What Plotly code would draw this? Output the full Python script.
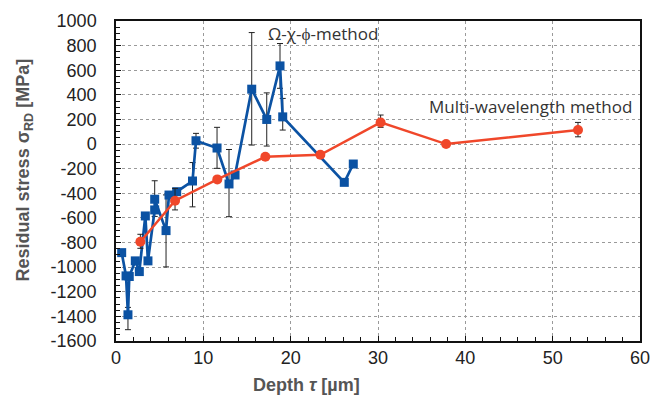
import plotly.graph_objects as go

# Ω-χ-ϕ method (blue)
blue_depth = [0.65, 1.15, 1.37, 1.52, 2.21, 2.67, 3.36, 3.66, 4.43, 4.43, 5.73, 6.07, 6.95,
              8.76, 9.16, 11.57, 12.94, 13.63, 15.54, 17.26, 18.78, 19.09, 26.14, 27.17]
blue_stress = [-882, -1071, -1387, -1076, -949, -1036, -584, -949, -535, -448, -703, -414, -387,
               -300, 27, -32, -324, -251, 446, 200, 635, 221, -311, -162]
blue_err_plus = [None, None, 60, None, None, None, None, None, None, 150, 290, None, None,
                 150, 60, 168, 280, None, 460, 216, 182, 150, None, None]
blue_err_minus = [None, None, 121, None, None, None, None, None, None, 140, 295, None, None,
                  210, 60, 165, 266, None, 454, 216, 182, 107, None, None]

# Multi-wavelength method (red)
red_depth = [2.79, 6.76, 11.6, 17.1, 23.4, 30.3, 37.8, 52.9]
red_stress = [-794, -460, -287, -103, -87, 176, 0, 114]
red_err_plus = [61, 100, None, None, None, 60, None, 62]
red_err_minus = [53, 75, None, None, None, 40, None, 55]

x_ticks = [0, 10, 20, 30, 40, 50, 60]
y_ticks = list(range(-1600, 1001, 200))

fig = go.Figure()

fig.add_trace(go.Scatter(
    x=blue_depth, y=blue_stress, mode="lines+markers",
    line=dict(color="#0b52a3", width=2.7),
    marker=dict(symbol="square", size=9, color="#0b52a3"),
    error_y=dict(type="data", symmetric=False, array=blue_err_plus, arrayminus=blue_err_minus,
                 color="#222222", thickness=1, width=3),
    showlegend=False,
))

fig.add_trace(go.Scatter(
    x=red_depth, y=red_stress, mode="lines+markers",
    line=dict(color="#f0472a", width=2.5),
    marker=dict(symbol="circle", size=10, color="#f0472a"),
    error_y=dict(type="data", symmetric=False, array=red_err_plus, arrayminus=red_err_minus,
                 color="#222222", thickness=1, width=3),
    showlegend=False,
))

fig.add_annotation(x=23.7, y=902, text="Ω-χ-ϕ-method", showarrow=False,
                   font=dict(family="Open Sans", size=17, color="#333333"))
fig.add_annotation(x=47.5, y=309, text="Multi-wavelength method", showarrow=False,
                   font=dict(family="Open Sans", size=17, color="#333333"))

# axis titles
fig.add_annotation(xref="paper", yref="paper", x=-0.175, y=0.534, textangle=-90,
                   xanchor="center", yanchor="middle",
                   text="<b>Residual stress σ<sub>RD</sub> [MPa]</b>", showarrow=False,
                   font=dict(family="Liberation Sans, Arial", size=18, color="#555555"))
fig.add_annotation(xref="paper", yref="paper", x=0.3645, y=-0.1375,
                   xanchor="center", yanchor="middle",
                   text="<b>Depth <i>τ</i> [µm]</b>", showarrow=False,
                   font=dict(family="Liberation Sans, Arial", size=18, color="#555555"))

fig.update_xaxes(
    range=[0, 60], tickvals=x_ticks, ticktext=[str(v) for v in x_ticks],
    showgrid=True, gridcolor="#9a9a9a", griddash="dot", gridwidth=1,
    showline=True, linecolor="#111111", linewidth=1.5, mirror=True,
    ticks="inside", ticklen=5, tickcolor="#111111",
    minor=dict(dtick=2, ticks="inside", ticklen=4, tickcolor="#111111", showgrid=False),
    tickfont=dict(family="Liberation Sans, Arial", size=18, color="#222222"),
    ticklabelstandoff=0,
    zeroline=False, automargin=False,
)
fig.update_yaxes(
    range=[-1600, 1000], tickvals=y_ticks, ticktext=[str(v) for v in y_ticks],
    showgrid=True, gridcolor="#9a9a9a", griddash="dot", gridwidth=1,
    showline=True, linecolor="#111111", linewidth=1.5, mirror=True,
    ticks="inside", ticklen=5, tickcolor="#111111",
    minor=dict(dtick=50, ticks="inside", ticklen=4, tickcolor="#111111", showgrid=False),
    tickfont=dict(family="Liberation Sans, Arial", size=18, color="#222222"),
    ticklabelstandoff=14,
    zeroline=False, automargin=False,
)

fig.update_layout(
    width=652, height=401,
    margin=dict(l=116, r=12, t=21, b=60),
    paper_bgcolor="white", plot_bgcolor="white",
)

fig.write_html(
    "out.html",
    config={"displayModeBar": False},
    post_script="document.body.style.margin='0';document.body.style.overflow='hidden';",
)
